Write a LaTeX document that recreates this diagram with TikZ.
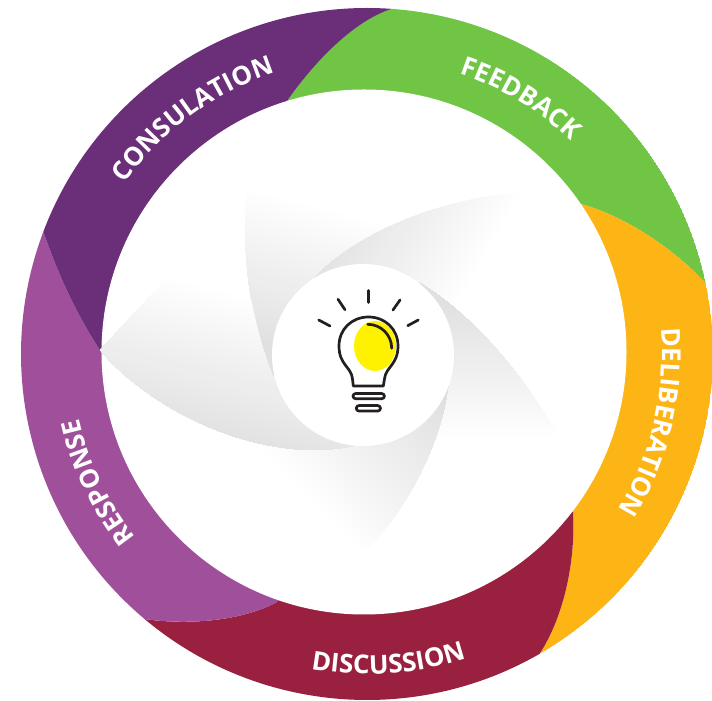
\documentclass[tikz,border=0pt]{standalone}
\usepackage{fontspec}
\newfontfamily\ringfont{Open Sans}
\usetikzlibrary{calc,decorations.text}
\definecolor{cPurple}{HTML}{6B2E78}
\definecolor{cGreen}{HTML}{70C544}
\definecolor{cOrange}{HTML}{FDB515}
\definecolor{cCrimson}{HTML}{9A2040}
\definecolor{cViolet}{HTML}{A0509B}
\definecolor{cInk}{HTML}{231F20}
\tikzset{
  bulbline/.style={draw=cInk,line width=2.7pt,line cap=round,line join=round},
}
% edges of the five grey blades, tip to inner end
\def\edgeA{(247,508) .. controls (241,451) and (250,381) .. (273,324)}
\def\edgeArev{(273,324) .. controls (250,381) and (241,451) .. (247,508)}
\def\edgeB{(520,508) .. controls (460,504) and (370,479) .. (315,424)}
\def\edgeBrev{(315,424) .. controls (370,479) and (460,504) .. (520,508)}
\def\edgeC{(558,264) .. controls (530,316) and (480,381) .. (420,418)}
\def\edgeCrev{(420,418) .. controls (480,381) and (530,316) .. (558,264)}
\def\edgeD{(362,148) .. controls (400,181) and (440,251) .. (448,314)}
\def\edgeDrev{(448,314) .. controls (440,251) and (400,181) .. (362,148)}
\def\edgeE{(100,351) .. controls (150,291) and (260,236) .. (353,255)}
\def\edgeErev{(353,255) .. controls (260,236) and (150,291) .. (100,351)}
% #1 clip path, #2 white end, #3 direction to grey, #4 length
\newcommand{\blade}[4]{%
  \begin{scope}
    \clip #1;
    \begin{scope}[shift={#2},rotate=#3]
      \foreach \i in {1,...,32}{
        \pgfmathsetmacro{\lev}{\i*12.2/32}
        \pgfmathsetmacro{\st}{(\i-1)/32*#4}
        \fill[black!\lev!white] (\st,-900) rectangle (1200,900);
      }
    \end{scope}
  \end{scope}}
\newcommand{\ringlabel}[4]{%
  \path[decorate,decoration={text along path,text align=center,
    text={|\fontsize{26}{30}\selectfont\ringfont\bfseries\color{white}|#1}}]
    ($(O)+(#2:#3pt)$) arc[start angle=#2,end angle=#4,radius=#3pt];}
\begin{document}
\begin{tikzpicture}[x=1pt,y=1pt]
\useasboundingbox (0,0) rectangle (712,701);
\coordinate (O) at (367,347);
\coordinate (I) at (364,349);
\coordinate (M) at (363,346);
\begin{scope}
  \clip (O) circle[radius=346pt];
  \fill[cGreen] ($(O)+(85.9:346pt)$) arc[start angle=85.9,end angle=11.8,radius=346pt]
     .. controls (675,451) and (625,486) .. (577,498) -- (I) -- (285,597)
     .. controls (308,631) and (350,679) .. cycle;
  \fill[cOrange] ($(O)+(11.8:346pt)$) arc[start angle=11.8,end angle=-60.1,radius=346pt]
     .. controls (562,81) and (576,136) .. (573,189) -- (I) -- (577,498)
     .. controls (625,486) and (675,451) .. cycle;
  \fill[cCrimson] ($(O)+(-60.1:346pt)$) arc[start angle=-60.1,end angle=-130,radius=346pt]
     .. controls (185,76) and (240,79) .. (277,99) -- (I) -- (573,189)
     .. controls (576,136) and (562,81) .. cycle;
  \fill[cViolet] ($(O)+(230:346pt)$) arc[start angle=230,end angle=159.3,radius=346pt]
     .. controls (60,421) and (80,381) .. (100,351) -- (I) -- (277,99)
     .. controls (240,79) and (185,76) .. cycle;
  \fill[cPurple] ($(O)+(159.3:346pt)$) arc[start angle=159.3,end angle=85.9,radius=346pt]
     .. controls (350,679) and (308,631) .. (285,597) -- (I) -- (100,351)
     .. controls (80,381) and (60,421) .. cycle;
\end{scope}
\fill[white] (I) circle[radius=262.5pt];
% grey blades
\blade{\edgeA -- (M) -- \edgeBrev -- cycle}{(250,511)}{255}{150}
\blade{\edgeB -- (M) -- \edgeCrev -- cycle}{(520,508)}{150}{150}
\blade{\edgeC -- (M) -- \edgeDrev -- cycle}{(500,264)}{90}{137}
\blade{\edgeD -- (M) -- \edgeErev -- cycle}{(362,148)}{43}{170}
\blade{\edgeE -- (M) -- \edgeArev -- cycle}{(123,434)}{255.5}{150}
\fill[white] (M) circle[radius=91pt];
% bulb
\fill[yellow] (375,355) ellipse[x radius=21pt,y radius=25pt];
\draw[bulbline] (353.3,315) -- (352.5,322) .. controls (351.5,334) and (339,336) .. (339,355)
   .. controls (339,372) and (352,384) .. (368.5,384) .. controls (385,384) and (398,372) .. (398,355)
   .. controls (398,336) and (385.5,334) .. (384.5,322) -- (383.3,315) -- cycle;
\draw[bulbline] (368.3,410.5) -- (368.3,398.5);
\draw[bulbline] (338,401.7) -- (345,391.3);
\draw[bulbline] (400,401) -- (393,391);
\draw[bulbline] (318.7,381) -- (330,375);
\draw[bulbline] (418.3,381) -- (407.7,375.3);
\draw[bulbline,rounded corners=2.5pt] (353,302.3) rectangle (384.4,307.4);
\draw[bulbline,rounded corners=2.5pt] (356.3,290) rectangle (380.4,295.4);
\draw[bulbline] (367.7,376.7) .. controls (381,376.7) and (391.7,366) .. (391.7,352.7);
% labels
\ringlabel{CONSULATION}{165}{296}{88}
\ringlabel{FEEDBACK}{99}{295}{19}
\ringlabel{DELIBERATION}{27}{295}{-54}
\ringlabel{DISCUSSION}{-126}{320}{-46}
\ringlabel{RESPONSE}{245}{295}{166}
\end{tikzpicture}
\end{document}
